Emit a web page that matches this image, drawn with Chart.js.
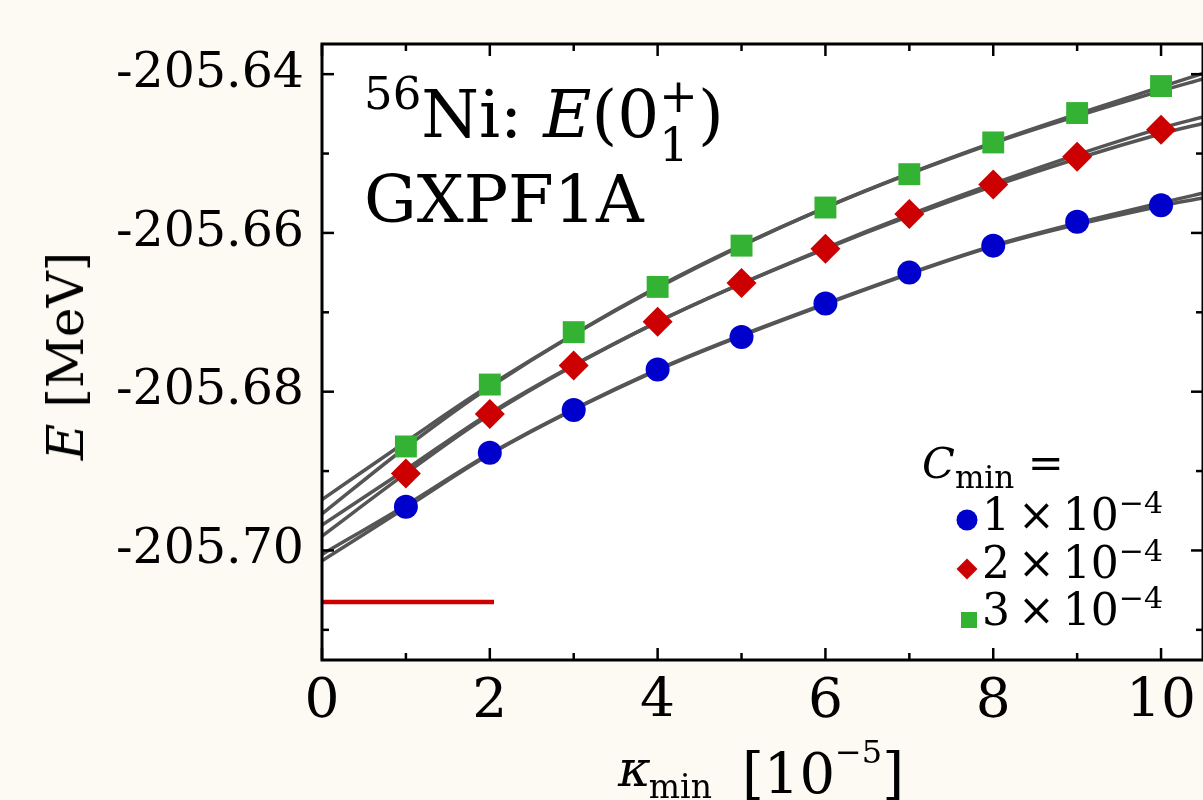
<!DOCTYPE html>
<html><head><meta charset="utf-8">
<script src="https://cdn.jsdelivr.net/npm/chart.js@4.4.1/dist/chart.umd.min.js"></script>
<style>
html,body{margin:0;padding:0;background:#fdf9f3;}
#wrap{position:relative;width:1203px;height:800px;overflow:hidden;background:#fdf9f3;font-family:'DejaVu Serif',serif;color:#000;}
canvas{position:absolute;left:0;top:0;}
.t{position:absolute;white-space:nowrap;line-height:1;font-family:'DejaVu Serif',serif;}
.r{position:relative;}
</style></head><body>
<div id="wrap">
<canvas id="c" width="1203" height="800"></canvas>
<div class="t" style="left:364px;top:82px;font-size:66px;"><span class="r" style="font-size:45px;top:-28px;">56</span>Ni: <i>E</i>(0<span class="r" style="font-size:46px;top:-25px;">+</span><span class="r" style="font-size:46px;top:24px;margin-left:-38.5px;margin-right:9.5px;">1</span>)</div>
<div class="t" style="left:364px;top:167px;font-size:66px;">GXPF1A</div>
<div class="t" style="left:922px;top:442px;font-size:43px;"><i>C</i><span class="r" style="font-size:31px;top:10px;">min</span> =</div>
<div class="t" style="left:982px;top:493px;font-size:44px;word-spacing:-6px;">1 × 10<span class="r" style="font-size:30px;top:-17px;">−4</span></div>
<div class="t" style="left:982px;top:541px;font-size:44px;word-spacing:-6px;">2 × 10<span class="r" style="font-size:30px;top:-17px;">−4</span></div>
<div class="t" style="left:982px;top:588px;font-size:44px;word-spacing:-6px;">3 × 10<span class="r" style="font-size:30px;top:-17px;">−4</span></div>
<div class="t" style="left:618px;top:746px;font-size:56px;"><i class="r" style="font-size:50px;top:-7px;">κ</i><span class="r" style="font-size:33px;top:5px;margin-left:-2px;">min</span><span style="margin-left:30px;">[10<span class="r" style="font-size:32px;top:-30px;">−5</span>]</span></div>
<div class="t" style="left:66px;top:356px;font-size:50px;transform:translate(-50%,-50%) rotate(-90deg);"><i>E</i> [MeV]</div>
</div>
<script>
// ---- data ----
const kappa = [1,2,3,4,5,6,7,8,9,10];
const energyC1 = [-205.6945,-205.6877,-205.6823,-205.6772,-205.6731,-205.6689,-205.6650,-205.6616,-205.6586,-205.6565];
const energyC2 = [-205.6903,-205.6828,-205.6767,-205.6712,-205.6663,-205.6620,-205.6576,-205.6539,-205.6504,-205.6470];
const energyC3 = [-205.6869,-205.6791,-205.6725,-205.6668,-205.6616,-205.6568,-205.6526,-205.6486,-205.6449,-205.6415];
const fitKappa = [0,1,2,4,6,8,10,10.5];
const fitC1a = [-205.7005,-205.6943,-205.6878,-205.6772,-205.6689,-205.6616,-205.6562,-205.6550];
const fitC1b = [-205.7013,-205.6946,-205.6879,-205.6773,-205.6690,-205.6617,-205.6566,-205.6556];
const fitC2a = [-205.6968,-205.6898,-205.6827,-205.6712,-205.6619,-205.6538,-205.6468,-205.6454];
const fitC2b = [-205.6982,-205.6903,-205.6829,-205.6712,-205.6620,-205.6541,-205.6475,-205.6462];
const fitC3a = [-205.6936,-205.6863,-205.6792,-205.6669,-205.6568,-205.6486,-205.6416,-205.6399];
const fitC3b = [-205.6954,-205.6870,-205.6794,-205.6668,-205.6568,-205.6487,-205.6421,-205.6406];
const refKappa = [0, 2.05];
const refEnergy = [-205.7065, -205.7065];
const xTickValues = [0,2,4,6,8,10];
const xTickLabels = ['0','2','4','6','8','10'];
const xMinorValues = [1,3,5,7,9];
const yTickValues = [-205.70,-205.68,-205.66,-205.64];
const yTickLabels = ['-205.70','-205.68','-205.66','-205.64'];
const yMinorValues = [-205.71,-205.69,-205.67,-205.65];

const BLUE='#0000cc', RED='#cc0000', GREEN='#33b233', GREY='#555555';
const pts = (xs, ys) => xs.map((x,i)=>({x, y: ys[i]}));

function markerSet(data, color, style, radius){
  return {type:'scatter', data: pts(kappa, data), pointStyle: style, pointRadius: radius, pointHoverRadius: radius,
    backgroundColor: color, borderColor: color, borderWidth: 0, showLine:false, order:0};
}
function fitSet(data){
  return {type:'scatter', data: pts(fitKappa, data), showLine:true, pointRadius:0, borderColor:GREY, borderWidth:3.5,
    cubicInterpolationMode:'monotone', fill:false, order:1};
}

const framePlugin = {
  id:'frame',
  beforeDraw(chart){
    const {ctx, chartArea:a} = chart;
    ctx.save();
    ctx.fillStyle='#fdf9f3'; ctx.fillRect(0,0,chart.width,chart.height);
    ctx.fillStyle='#ffffff'; ctx.fillRect(a.left,a.top,a.right-a.left,a.bottom-a.top);
    ctx.restore();
  },
  afterDraw(chart){
    const {ctx, chartArea:a, scales:{x,y}} = chart;
    ctx.save();
    // x tick labels (positions from the library's x scale)
    ctx.fillStyle='#000'; ctx.font='55px "DejaVu Serif"'; ctx.textAlign='center'; ctx.textBaseline='alphabetic';
    xTickValues.forEach((v,i)=>{ctx.fillText(xTickLabels[i], x.getPixelForValue(v), a.bottom+57);});
    ctx.strokeStyle='#000'; ctx.lineWidth=2.5;
    const seg=(x1,y1,x2,y2)=>{ctx.beginPath();ctx.moveTo(x1,y1);ctx.lineTo(x2,y2);ctx.stroke();};
    xTickValues.forEach(v=>{const p=x.getPixelForValue(v); seg(p,a.bottom,p,a.bottom-12); seg(p,a.top,p,a.top+12);});
    xMinorValues.forEach(v=>{const p=x.getPixelForValue(v); seg(p,a.bottom,p,a.bottom-7); seg(p,a.top,p,a.top+7);});
    yTickValues.forEach(v=>{const p=y.getPixelForValue(v); seg(a.left,p,a.left+12,p); seg(a.right,p,a.right-12,p);});
    yMinorValues.forEach(v=>{const p=y.getPixelForValue(v); seg(a.left,p,a.left+7,p); seg(a.right,p,a.right-7,p);});
    ctx.lineWidth=3;
    ctx.strokeRect(a.left,a.top,a.right-a.left,a.bottom-a.top);
    // legend markers
    ctx.fillStyle=BLUE; ctx.beginPath(); ctx.arc(967,520,10.5,0,Math.PI*2); ctx.fill();
    ctx.fillStyle=RED; ctx.beginPath(); ctx.moveTo(956.5,569); ctx.lineTo(967,558.5); ctx.lineTo(977.5,569); ctx.lineTo(967,579.5); ctx.closePath(); ctx.fill();
    ctx.fillStyle=GREEN; ctx.fillRect(961,612,16,16);
    ctx.restore();
  }
};

new Chart(document.getElementById('c'), {
  type:'scatter',
  data:{datasets:[
    markerSet(energyC1, BLUE, 'circle', 12),
    markerSet(energyC2, RED, 'rectRot', 15),
    markerSet(energyC3, GREEN, 'rect', 15.5),
    fitSet(fitC1a), fitSet(fitC1b), fitSet(fitC2a), fitSet(fitC2b), fitSet(fitC3a), fitSet(fitC3b),
    {type:'scatter', data: pts(refKappa, refEnergy), showLine:true, pointRadius:0, borderColor:RED, borderWidth:4.5, order:1}
  ]},
  options:{
    responsive:false, animation:false, devicePixelRatio:1,
    layout:{autoPadding:false, padding:{top:44,right:0,left:0,bottom:0}},
    plugins:{legend:{display:false}, tooltip:{enabled:false}},
    scales:{
      x:{type:'linear', min:0, max:10.5,
        afterBuildTicks:(s)=>{s.ticks = xTickValues.map(v=>({value:v}));},
        afterFit:(s)=>{s.height=140; s.paddingLeft=0; s.paddingRight=0;},
        grid:{display:false, drawTicks:false}, border:{display:false},
        ticks:{display:false}},
      y:{type:'linear', min:-205.7138, max:-205.6362,
        afterBuildTicks:(s)=>{s.ticks = yTickValues.map(v=>({value:v}));},
        afterFit:(s)=>{s.width=322; s.paddingTop=0; s.paddingBottom=0;},
        grid:{display:false, drawTicks:false}, border:{display:false},
        ticks:{autoSkip:false, padding:18, color:'#000', font:{family:'DejaVu Serif', size:49},
          callback:(v,i)=>yTickLabels[i]}}
    }
  },
  plugins:[framePlugin]
});
</script>
</body></html>
